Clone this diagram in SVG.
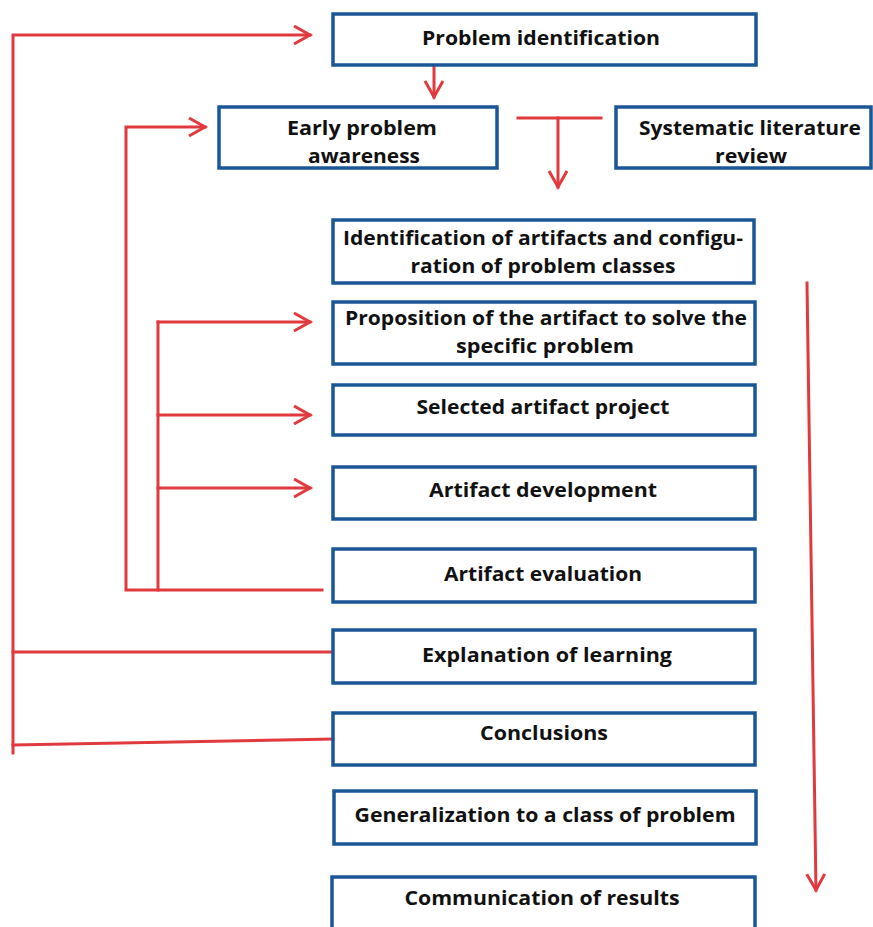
<svg xmlns="http://www.w3.org/2000/svg" width="873" height="927" viewBox="0 0 873 927">
<style>
.box{fill:#ffffff;stroke:#1b5696;stroke-width:3.5}
.t{font-family:"Open Sans","Liberation Sans",sans-serif;font-weight:bold;font-size:20px;fill:#111;text-anchor:middle}
.c{fill:none;stroke:#e03a3e;stroke-width:3;stroke-linecap:square}
.a{marker-end:url(#ah)}
</style>
<defs>
<marker id="ah" markerUnits="userSpaceOnUse" markerWidth="22" markerHeight="22" refX="17" refY="10" orient="auto" viewBox="0 0 22 22">
<path d="M1,1 L17,10 L1,19" fill="none" stroke="#e03a3e" stroke-width="3"/>
</marker>
</defs>
<rect width="873" height="927" fill="#ffffff"/>
<g id="connectors">
<polyline class="c a" points="13,753 13,35 310,35"/>
<line class="c" x1="13" y1="652" x2="333" y2="652"/>
<line class="c" x1="13" y1="745" x2="333" y2="739"/>
<line class="c a" x1="434" y1="65" x2="434" y2="97"/>
<polyline class="c a" points="322,590 126,590 126,127 205,127"/>
<line class="c" x1="158" y1="590" x2="158" y2="322"/>
<line class="c a" x1="158" y1="322" x2="310" y2="322"/>
<line class="c a" x1="158" y1="415" x2="310" y2="415"/>
<line class="c a" x1="158" y1="488" x2="310" y2="488"/>
<line class="c" x1="518" y1="118" x2="601" y2="118"/>
<line class="c a" x1="558" y1="118" x2="558" y2="187"/>
<line class="c a" x1="807" y1="283" x2="816" y2="890"/>
</g>
<g id="n-problem-identification">
<rect class="box" x="333" y="14" width="423" height="51"/>
<text class="t" x="541" y="45" textLength="238" lengthAdjust="spacingAndGlyphs">Problem identification</text>
</g>
<g id="n-early-problem-awareness">
<rect class="box" x="219" y="107" width="278" height="61"/>
<text class="t" x="362" y="135" textLength="150" lengthAdjust="spacingAndGlyphs">Early problem</text>
<text class="t" x="364" y="163" textLength="112" lengthAdjust="spacingAndGlyphs">awareness</text>
</g>
<g id="n-systematic-literature-review">
<rect class="box" x="616" y="107" width="255" height="61"/>
<text class="t" x="750" y="135" textLength="222" lengthAdjust="spacingAndGlyphs">Systematic literature</text>
<text class="t" x="751" y="163" textLength="72" lengthAdjust="spacingAndGlyphs">review</text>
</g>
<g id="n-identification">
<rect class="box" x="333" y="220" width="421" height="63"/>
<text class="t" x="543" y="245" textLength="400" lengthAdjust="spacingAndGlyphs">Identification of artifacts and configu-</text>
<text class="t" x="543" y="273" textLength="265" lengthAdjust="spacingAndGlyphs">ration of problem classes</text>
</g>
<g id="n-proposition">
<rect class="box" x="333" y="302" width="422" height="62"/>
<text class="t" x="546" y="325" textLength="402" lengthAdjust="spacingAndGlyphs">Proposition of the artifact to solve the</text>
<text class="t" x="545" y="353" textLength="178" lengthAdjust="spacingAndGlyphs">specific problem</text>
</g>
<g id="n-selected-artifact-project">
<rect class="box" x="333" y="385" width="422" height="50"/>
<text class="t" x="543" y="414" textLength="253" lengthAdjust="spacingAndGlyphs">Selected artifact project</text>
</g>
<g id="n-artifact-development">
<rect class="box" x="333" y="467" width="422" height="52"/>
<text class="t" x="543" y="497" textLength="228" lengthAdjust="spacingAndGlyphs">Artifact development</text>
</g>
<g id="n-artifact-evaluation">
<rect class="box" x="333" y="549" width="422" height="53"/>
<text class="t" x="543" y="581" textLength="198" lengthAdjust="spacingAndGlyphs">Artifact evaluation</text>
</g>
<g id="n-explanation-of-learning">
<rect class="box" x="333" y="630" width="422" height="53"/>
<text class="t" x="547" y="662" textLength="250" lengthAdjust="spacingAndGlyphs">Explanation of learning</text>
</g>
<g id="n-conclusions">
<rect class="box" x="333" y="713" width="422" height="52"/>
<text class="t" x="544" y="740" textLength="128" lengthAdjust="spacingAndGlyphs">Conclusions</text>
</g>
<g id="n-generalization">
<rect class="box" x="334" y="791" width="422" height="53"/>
<text class="t" x="545" y="822" textLength="381" lengthAdjust="spacingAndGlyphs">Generalization to a class of problem</text>
</g>
<g id="n-communication-of-results">
<rect class="box" x="332" y="877" width="423" height="60"/>
<text class="t" x="542" y="905" textLength="275" lengthAdjust="spacingAndGlyphs">Communication of results</text>
</g>
</svg>
